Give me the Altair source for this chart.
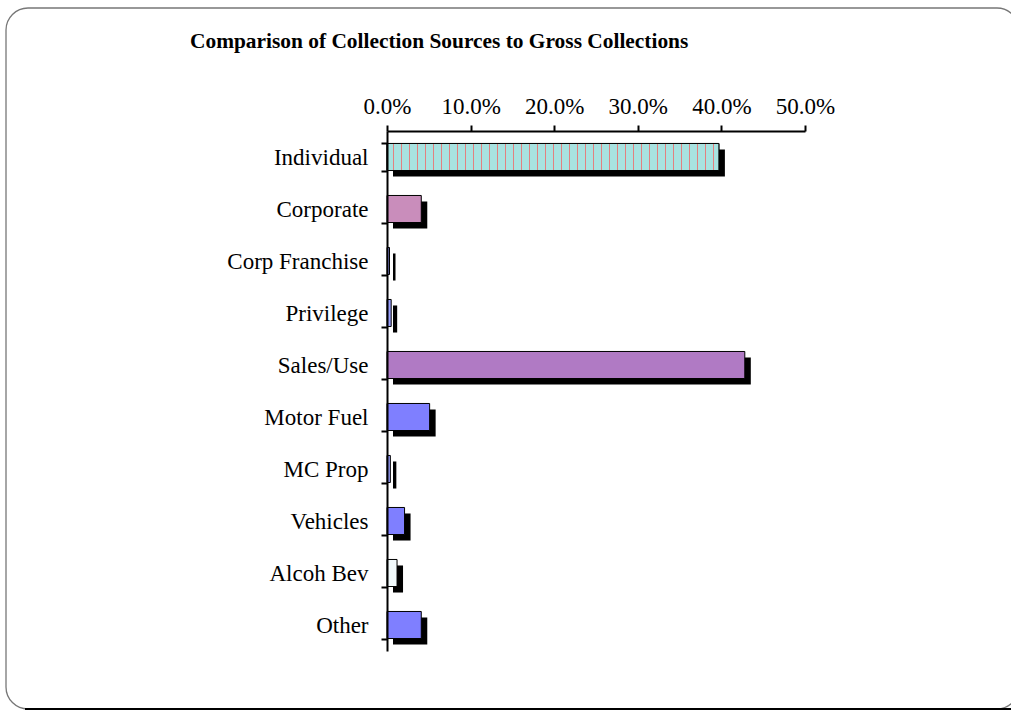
import altair as alt
import pandas as pd

categories = ["Individual", "Corporate", "Corp Franchise", "Privilege", "Sales/Use",
              "Motor Fuel", "MC Prop", "Vehicles", "Alcoh Bev", "Other"]
values = [0.397, 0.041, 0.003, 0.005, 0.428, 0.051, 0.004, 0.021, 0.012, 0.041]
fills = ["#A8E2E0", "#C98DBB", "#9AA0FF", "#9AA0FF", "#B07AC4",
         "#7F7FFF", "#9AA0FF", "#7F7FFF", "#F2FAFC", "#7F7FFF"]
title_text = "Comparison of Collection Sources to Gross Collections"
x_ticks = [0, 0.1, 0.2, 0.3, 0.4, 0.5]

df = pd.DataFrame({"cat": categories, "val": values, "fill": fills})

FONT = "Liberation Serif"
PLOT_W = 418

yenc = alt.Y("cat:N", sort=categories,
             scale=alt.Scale(paddingInner=0.48, paddingOuter=0.24),
             axis=alt.Axis(title=None, orient="left", tickBand="extent", tickSize=6,
                           tickWidth=2, domainWidth=2, domainColor="black", tickColor="black",
                           labelFont=FONT, labelFontSize=23, labelColor="black",
                           labelPadding=13, labelOverlap=False, zindex=1))
xenc = alt.X("val:Q", scale=alt.Scale(domain=[0, 0.5], nice=False),
             axis=alt.Axis(title=None, orient="top", values=x_ticks, format=".1%", grid=False,
                           tickSize=6, tickWidth=2, domainWidth=2, domainColor="black",
                           tickColor="black", labelFont=FONT, labelFontSize=23,
                           labelColor="black", labelPadding=7, labelOverlap=False,
                           labelFlush=False, zindex=1))

base = alt.Chart(df)

shadow = base.mark_bar(color="black", xOffset=6, x2Offset=6, yOffset=6, y2Offset=6).encode(
    y=yenc, x=xenc)
bars = base.mark_bar(stroke="black", strokeWidth=1).encode(
    y=yenc, x=xenc, fill=alt.Fill("fill:N", scale=None))

# striped texture for the "Individual" bar (red dashes on cyan)
ind_w = values[0] / 0.5 * PLOT_W
stops = []
px = 6.0
while px + 2 < ind_w:
    a, b = px / ind_w, (px + 1.3) / ind_w
    stops += [alt.GradientStop(offset=a, color="#A8E2E0"), alt.GradientStop(offset=a, color="#E28080"),
              alt.GradientStop(offset=b, color="#E28080"), alt.GradientStop(offset=b, color="#A8E2E0")]
    px += 8.0
stops = [alt.GradientStop(offset=0, color="#A8E2E0")] + stops + [alt.GradientStop(offset=1, color="#A8E2E0")]
ind_bar = base.transform_filter(alt.datum.cat == "Individual").mark_bar(
    stroke="black", strokeWidth=1,
    fill=alt.LinearGradient(gradient="linear", stops=stops, x1=0, x2=1, y1=0, y2=0)
).encode(y=yenc, x=xenc)

one = alt.Data(values=[{"t": title_text}])
frame = alt.Chart(one).mark_rect(fillOpacity=0, stroke="#777777", strokeWidth=1.3,
                                 cornerRadius=22).encode(
    x=alt.value(-381), x2=alt.value(632), y=alt.value(-123), y2=alt.value(578))
frame_bottom = alt.Chart(one).mark_rule(color="black", strokeWidth=2).encode(
    x=alt.value(-362), x2=alt.value(624), y=alt.value(578))
title = alt.Chart(one).mark_text(font=FONT, fontSize=21.4, fontWeight="bold", align="left",
                                 baseline="middle", color="black").encode(
    text="t:N", x=alt.value(-197), y=alt.value(-89))

chart = alt.layer(frame, frame_bottom, shadow, bars, ind_bar, title).properties(
    width=PLOT_W, height=520,
    autosize=alt.AutoSizeParams(type="none"),
    padding={"left": 387, "top": 131, "right": 206, "bottom": 60},
).configure(background="white", view=alt.ViewConfig(stroke=None))

chart.save("out.html", embed_options={"renderer": "svg", "actions": False})
